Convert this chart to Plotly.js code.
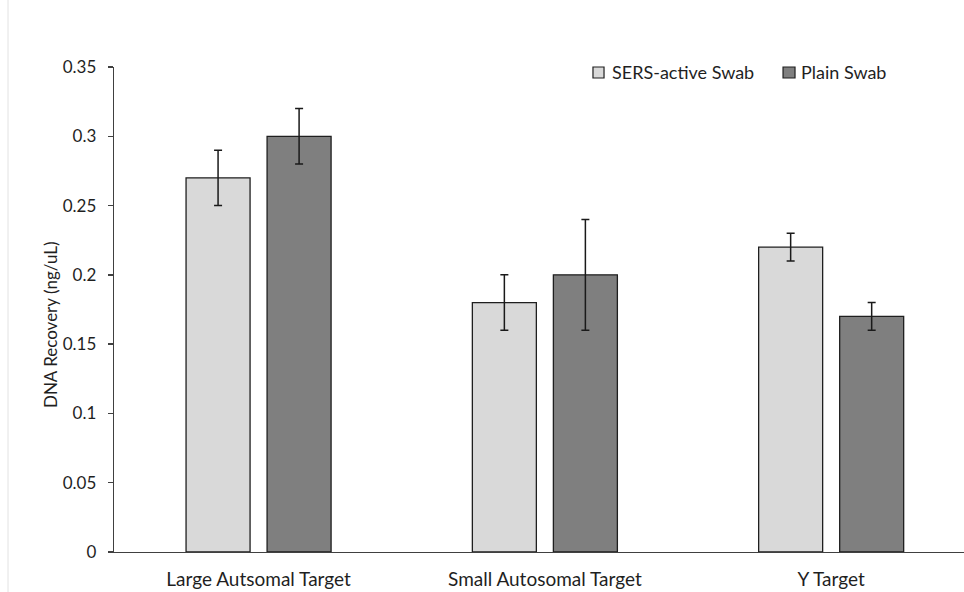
<!DOCTYPE html>
<html>
<head>
<meta charset="utf-8">
<script src="https://cdn.plot.ly/plotly-3.0.1.min.js"></script>
<style>
  html, body { margin: 0; padding: 0; background: #ffffff; }
  #chart { width: 964px; height: 592px; }
</style>
</head>
<body>
<div id="chart"></div>
<script>
// Target categories
const categories = ["Large Autsomal Target", "Small Autosomal Target", "Y Target"];

// Mean DNA recovery (ng/uL) and error values per swab type
const seriesNames = ["SERS-active Swab", "Plain Swab"];
const sersValues = [0.27, 0.18, 0.22];
const sersErrors = [0.02, 0.02, 0.01];
const plainValues = [0.30, 0.20, 0.17];
const plainErrors = [0.02, 0.04, 0.01];

// Y axis tick labels
const yTickValues = [0, 0.05, 0.1, 0.15, 0.2, 0.25, 0.3, 0.35];
const yTickText = ["0", "0.05", "0.1", "0.15", "0.2", "0.25", "0.3", "0.35"];

const FONT = "Lato, 'Open Sans', 'Liberation Sans', sans-serif";
const INK = "#1f1f1f";
const FILLS = ["#d9d9d9", "#7f7f7f"];

function barTrace(name, values, errors, fill) {
  return {
    type: "bar",
    name: name,
    x: categories,
    y: values,
    marker: { color: fill, line: { color: INK, width: 1.3 } },
    error_y: {
      type: "data",
      array: errors,
      visible: true,
      color: "#1a1a1a",
      thickness: 1.5,
      width: 4
    }
  };
}

const data = [
  barTrace(seriesNames[0], sersValues, sersErrors, FILLS[0]),
  barTrace(seriesNames[1], plainValues, plainErrors, FILLS[1])
];

// Compact legend: swatch + label per series, laid out along the top right
const legendSlots = [
  { sx0: 0.5635, sx1: 0.5765, tx: 0.5835 },
  { sx0: 0.7871, sx1: 0.8012, tx: 0.8059 }
];
const legendShapes = legendSlots.map((s, i) => ({
  type: "rect",
  xref: "paper", yref: "paper",
  x0: s.sx0, x1: s.sx1,
  y0: 0.9773, y1: 1.0,
  fillcolor: FILLS[i],
  line: { color: INK, width: 1.2 }
}));
const legendLabels = legendSlots.map((s, i) => ({
  xref: "paper", yref: "paper",
  x: s.tx, y: 0.9907,
  xanchor: "left", yanchor: "middle",
  text: seriesNames[i],
  showarrow: false,
  font: { family: FONT, size: 18, color: INK }
}));

const layout = {
  width: 964,
  height: 592,
  paper_bgcolor: "#ffffff",
  plot_bgcolor: "#ffffff",
  margin: { l: 114, r: 0, t: 67, b: 40 },
  barmode: "group",
  bargap: 0.434,
  bargroupgap: 0.21,
  font: { family: FONT, size: 17, color: INK },
  showlegend: false,
  xaxis: {
    type: "category",
    range: [-0.505, 2.464],
    showline: true,
    linecolor: "#404040",
    linewidth: 1.3,
    ticks: "",
    showgrid: false,
    zeroline: false,
    tickfont: { family: FONT, size: 19, color: INK },
    ticklabelstandoff: 10
  },
  yaxis: {
    range: [0, 0.35],
    tickvals: yTickValues,
    ticktext: yTickText,
    showline: true,
    linecolor: "#404040",
    linewidth: 1.3,
    ticks: "outside",
    ticklen: 5,
    tickcolor: "#404040",
    tickwidth: 1.3,
    showgrid: false,
    zeroline: false,
    tickfont: { family: FONT, size: 17, color: INK },
    ticklabelstandoff: 8
  },
  annotations: [
    {
      xref: "paper", yref: "paper",
      x: -0.0753, y: 0.470,
      xanchor: "center", yanchor: "middle",
      textangle: -90,
      text: "DNA Recovery (ng/uL)",
      showarrow: false,
      font: { family: FONT, size: 17, color: INK }
    }
  ].concat(legendLabels),
  shapes: [
    {
      type: "line",
      xref: "paper", yref: "paper",
      x0: -0.1247, x1: -0.1247,
      y0: -0.0825, y1: 1.138,
      line: { color: "#ececec", width: 1.5 }
    }
  ].concat(legendShapes)
};

Plotly.newPlot("chart", data, layout, { displayModeBar: false, staticPlot: true });
</script>
</body>
</html>
